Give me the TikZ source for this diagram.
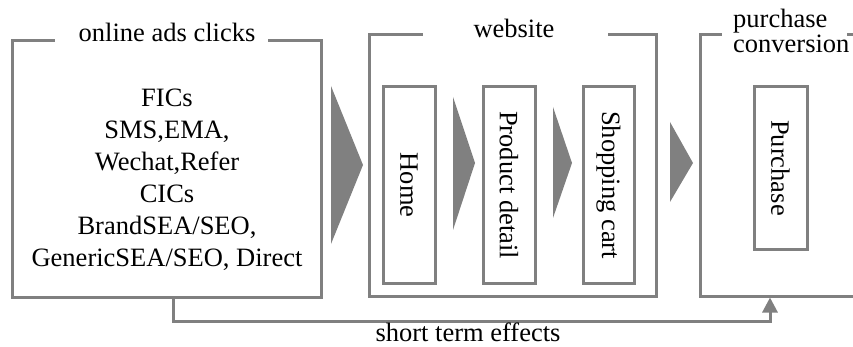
\documentclass[tikz,border=0pt]{standalone}
\usepackage{fontspec}
\setmainfont{Liberation Serif}
\usetikzlibrary{arrows.meta}
\definecolor{lgray}{RGB}{128,128,128}
\begin{document}
\begin{tikzpicture}[x=1pt,y=-1pt,
  frame/.style={draw=lgray,line width=3pt,inner sep=0pt,rectangle},
  stage/.style={draw=lgray,line width=3pt,inner sep=0pt,rectangle,rotate=-90,
    font=\fontsize{26.5}{30}\selectfont},
  gap/.style={fill=white,inner sep=0pt,minimum height=9pt},
  ttl/.style={inner sep=0pt,font=\fontsize{26.5}{25}\selectfont},
  flow/.style={fill=lgray},
  fb/.style={draw=lgray,line width=3pt,-{Triangle[width=15pt,length=15pt]}}]
\useasboundingbox (0,0) rectangle (853,347);
% outer frames
\node[frame,minimum width=309pt,minimum height=256pt] (box1) at (166.5,169) {};
\node[frame,minimum width=287pt,minimum height=261pt] (box2) at (512.5,165.5) {};
\node[frame,minimum width=200pt,minimum height=261pt] (box3) at (800,165.5) {};
% gaps in top lines
\node[gap,minimum width=213pt] (gap1) at (161.5,41) {};
\node[gap,minimum width=185pt] (gap2) at (515.5,35) {};
\node[gap,minimum width=125pt] (gap3) at (784.5,35) {};
% titles
\node[ttl,anchor=base] (t1) at (167,42) {online ads clicks};
\node[ttl,anchor=base] (t2) at (514,38) {website};
\node[ttl,anchor=north west,align=left] (t3) at (733,9) {purchase\\conversion};
% content of box 1
\node[inner sep=0pt,anchor=north,align=center,font=\fontsize{26.5}{32}\selectfont] (src) at (167,89)
  {FICs\\SMS,EMA,\\Wechat,Refer\\CICs\\BrandSEA/SEO,\\GenericSEA/SEO, Direct};
% stages
\node[stage,minimum width=196pt,minimum height=52pt] (home) at (409,185) {Home};
\node[stage,minimum width=196pt,minimum height=52pt] (prod) at (509,185) {Product detail};
\node[stage,minimum width=196pt,minimum height=51pt] (cart) at (608.5,185) {Shopping cart};
\node[stage,minimum width=162pt,minimum height=53pt] (buy) at (780.5,168) {Purchase};
% flow triangles
\fill[flow] (331,86) -- (363,165) -- (331,244) -- cycle;
\fill[flow] (453,97) -- (475,163) -- (453,230) -- cycle;
\fill[flow] (553,107) -- (572,163) -- (553,218) -- cycle;
\fill[flow] (670,122) -- (693,163) -- (670,202) -- cycle;
% feedback connector
\coordinate (fbx) at (173,0);
\coordinate (fbc) at (770,321);
\draw[fb] (box1.south -| fbx) |- (fbc) -- (box3.south -| fbc);
\node[ttl,anchor=base] (lbl) at (468,341) {short term effects};
\end{tikzpicture}
\end{document}
